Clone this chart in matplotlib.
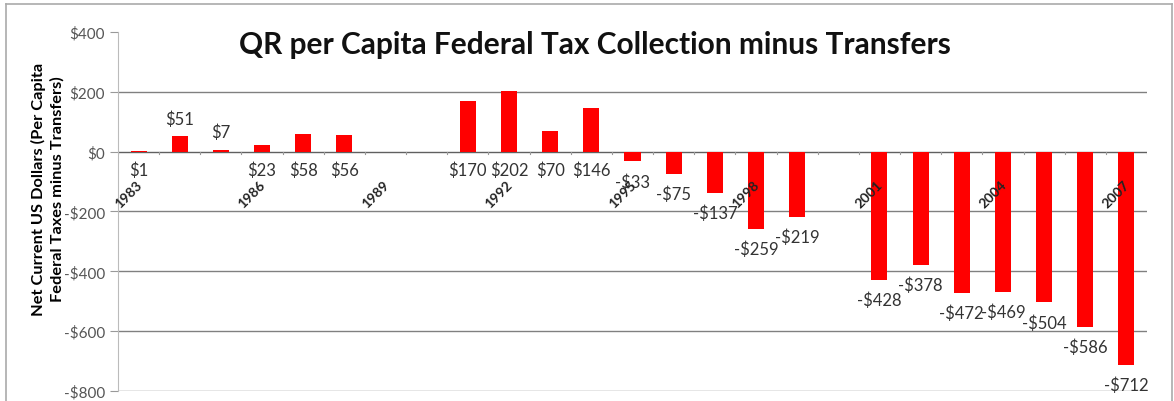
import numpy as np
import matplotlib.pyplot as plt
from matplotlib.lines import Line2D

# ---------- data ----------

years = [1983, 1984, 1985, 1986, 1987, 1988,
         1991, 1992, 1993, 1994, 1995, 1996, 1997, 1998, 1999,
         2001, 2002, 2003, 2004, 2005, 2006, 2007]
net_per_capita = [1, 51, 7, 23, 58, 56,
                  170, 202, 70, 146, -33, -75, -137, -259, -219,
                  -428, -378, -472, -469, -504, -586, -712]
year_ticks = [1983, 1986, 1989, 1992, 1995, 1998, 2001, 2004, 2007]
y_ticks = [400, 200, 0, -200, -400, -600, -800]

# labels of these years sit above their bars, the rest below
labels_above = {1984, 1985}


def money(v):
    return f"-${abs(v):,.0f}" if v < 0 else f"${v:,.0f}"


# ---------- plotting ----------

plt.rcParams["font.family"] = ["Lato", "DejaVu Sans"]

fig = plt.figure(figsize=(11.74, 4.02), dpi=100)
ax = fig.add_axes([0.1005, 0.025, 0.8765, 0.893])

ax.bar(years, net_per_capita, width=0.39, color="#ff0000", zorder=3)

ax.set_xlim(1982.5, 2007.5)
ax.set_ylim(-800, 400)
ax.set_yticks(y_ticks)
ax.set_yticklabels([money(v) for v in y_ticks], fontsize=11, color="#555555")
ax.tick_params(axis="y", length=6, color="#999999", width=0.8)
ax.set_xticks([])

for y in y_ticks[1:]:
    ax.axhline(y, color="#808080" if y else "#606060", lw=1.0, zorder=1)

for s in ["top", "right", "bottom"]:
    ax.spines[s].set_visible(False)
ax.spines["left"].set_color("#bbbbbb")

# small category ticks along the zero line
for x in np.arange(1982.5, 2007.6, 1.0):
    ax.plot([x, x], [0, -8], color="#999999", lw=0.8, zorder=2)

# value labels
for yr, v in zip(years, net_per_capita):
    if v < 0:
        ly = v - 67
    elif yr in labels_above:
        ly = v + 58
    else:
        ly = -62
    ax.text(yr, ly, money(v), ha="center", va="center", fontsize=12,
            color="#333333", zorder=4)

# year labels drawn inside the plot
for yr in year_ticks:
    ax.text(yr - 0.25, -140, str(yr), rotation=45, ha="center", va="center",
            fontsize=10, fontweight="bold", color="#222222", zorder=5)

ax.set_ylabel("Net Current US Dollars (Per Capita\nFederal Taxes minus Transfers)",
              fontsize=11.8, fontweight="bold", linespacing=1.35)
ax.yaxis.set_label_coords(-0.052, 0.565)

fig.text(0.507, 0.888, "QR per Capita Federal Tax Collection minus Transfers",
         ha="center", va="center", fontsize=21.5, fontweight="bold", color="#111111")

# thin outer frame
for xs, ys in [([0.005, 0.005], [0.0, 0.988]),
               ([0.005, 0.998], [0.988, 0.988]),
               ([0.998, 0.998], [0.0, 0.988])]:
    fig.add_artist(Line2D(xs, ys, color="#aaaaaa", lw=1.2, transform=fig.transFigure))

fig.savefig("out.png", dpi=100)
